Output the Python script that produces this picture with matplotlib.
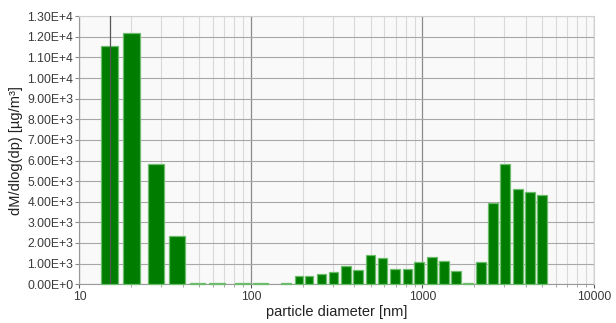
"""
Particle mass size distribution, dM/dlog(dp) per size bin (log x axis).
"""

import numpy as np
import matplotlib
matplotlib.use("Agg")
import matplotlib.pyplot as plt
from matplotlib.ticker import FixedLocator, LogLocator, NullFormatter

# bin mid diameters [nm]
diameters = [15, 20, 28, 37,
             48.8, 63.8, 89.2, 113.6, 160,
             190.5, 217.8, 259.4, 302.7, 358, 420.6, 501, 584, 691.5, 817,
             954.5, 1136, 1334, 1567, 1842, 2193, 2578, 3047, 3606, 4235, 4975]

# dM/dlog(dp) [ug/m3]
mass = [11550, 12200, 5830, 2340,
        45, 45, 45, 45, 45,
        420, 420, 485, 615, 870, 710, 1405, 1260, 745, 745,
        1070, 1300, 1150, 640, 45, 1075, 3960, 5815, 4630, 4480, 4350]

ytick_values = [i * 1000 for i in range(14)]
ytick_labels = ["0.00E+0"] + [f"{v / 1000:.2f}E+3" for v in ytick_values[1:10]] + \
               [f"{v / 10000:.2f}E+4" for v in ytick_values[10:]]
xtick_values = [10, 100, 1000, 10000]
xtick_labels = ["10", "100", "1000", "10000"]

CURSOR_DP = 15

FACE = "#007d00"
EDGE = "#6cbc6c"
TEXT = "#3a3a3a"


def main():
    plt.rcParams["font.family"] = ["Liberation Sans", "DejaVu Sans"]

    fig = plt.figure(figsize=(6.16, 3.23), dpi=100)
    ax = fig.add_axes([0.129, 0.12, 0.835, 0.83])
    ax.set_facecolor("#f9f9f9")

    # log-space bar widths from neighbour spacing
    logd = np.log10(diameters)
    gaps = np.diff(logd)
    near = np.minimum(np.r_[gaps[0], gaps], np.r_[gaps, gaps[-1]])
    wlog = 0.8 * near
    left = 10 ** (logd - wlog / 2)
    right = 10 ** (logd + wlog / 2)

    ax.bar(left, mass, width=right - left, align="edge",
           color=FACE, edgecolor=EDGE, linewidth=0.9, zorder=3, clip_on=False)

    ax.set_xscale("log")
    ax.set_xlim(10, 10000)
    ax.set_ylim(0, 13000)

    ax.xaxis.set_major_locator(FixedLocator(xtick_values))
    ax.set_xticklabels(xtick_labels)
    ax.xaxis.set_minor_locator(LogLocator(base=10, subs=np.arange(2, 10)))
    ax.xaxis.set_minor_formatter(NullFormatter())
    ax.set_yticks(ytick_values)
    ax.set_yticklabels(ytick_labels)

    ax.grid(True, which="minor", axis="x", color="#d9d9d9", linewidth=0.8, zorder=0)
    ax.grid(True, which="major", axis="x", color="#8a8a8a", linewidth=0.9, zorder=1)
    ax.grid(True, which="major", axis="y", color="#a8a8a8", linewidth=0.8, zorder=1)
    ax.axvline(CURSOR_DP, color="#555555", linewidth=0.9, zorder=4)

    ax.tick_params(axis="y", which="major", length=3, width=0.8, color="#888888",
                   labelsize=8.7, labelcolor=TEXT, pad=1.5)
    ax.tick_params(axis="x", which="major", length=3, width=0.8, color="#555555",
                   labelsize=8.7, labelcolor=TEXT, pad=2)
    ax.tick_params(axis="x", which="minor", length=2, width=0.6, color="#999999")

    for side in ["top", "right"]:
        ax.spines[side].set_color("#d0d0d0")
        ax.spines[side].set_linewidth(0.8)
    for side in ["left", "bottom"]:
        ax.spines[side].set_color("#999999")
        ax.spines[side].set_linewidth(0.8)
    ax.spines["bottom"].set_zorder(2)

    ax.set_xlabel("particle diameter [nm]", fontsize=10.5, color="#222222", labelpad=1)
    ax.set_ylabel("dM/dlog(dp) [µg/m³]", fontsize=10.5, color="#222222", labelpad=3)

    fig.savefig("out.png", dpi=100, facecolor="white")


if __name__ == "__main__":
    main()
